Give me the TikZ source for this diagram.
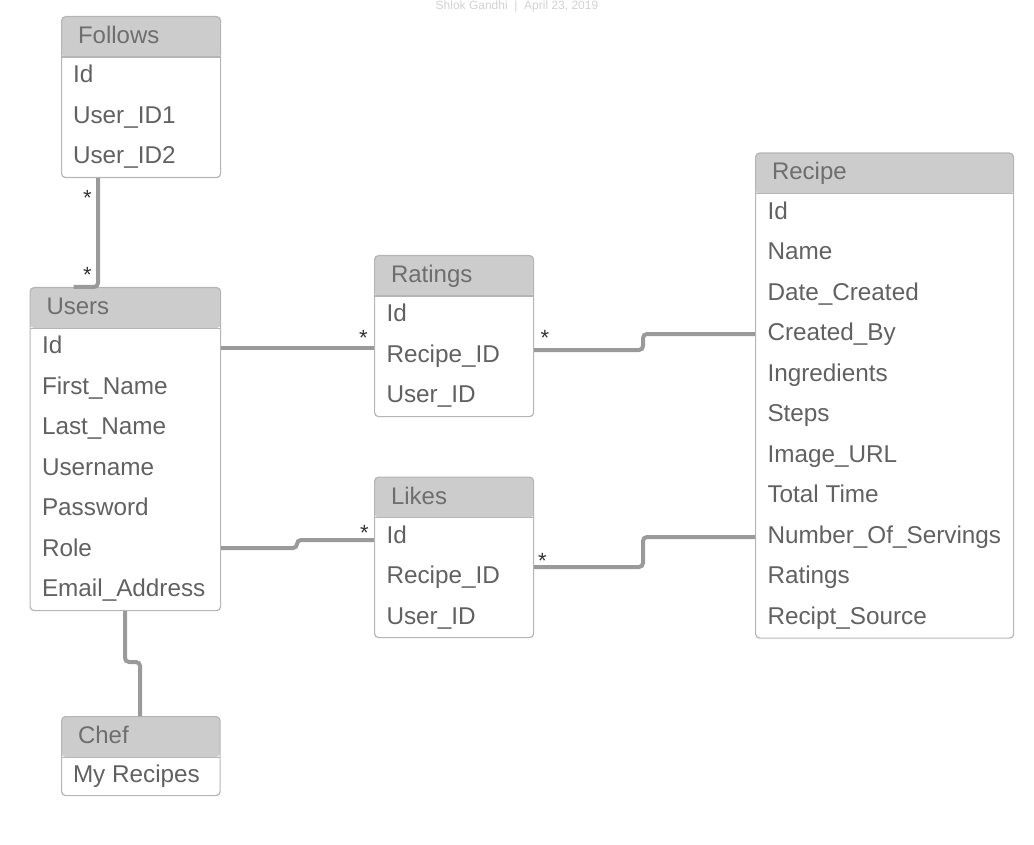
\documentclass[tikz,border=0pt]{standalone}
\usepackage{fontspec}
\setmainfont{Liberation Sans}
\usetikzlibrary{positioning}
\definecolor{headgray}{HTML}{CCCCCC}
\definecolor{boxgray}{HTML}{B5B5B5}
\definecolor{linegray}{HTML}{9A9A9A}
\definecolor{txtgray}{HTML}{616161}
\definecolor{hdrgray}{HTML}{6E6E6E}
\tikzset{
  tbl/.style={draw=boxgray, line width=1.2pt, rounded corners=4pt, anchor=north west, inner sep=0pt,
    path picture={
      \fill[headgray] (path picture bounding box.north west) rectangle ([yshift=-40.5pt]path picture bounding box.north east);
      \draw[boxgray, line width=1.2pt] ([yshift=-40.5pt]path picture bounding box.north west) -- ([yshift=-40.5pt]path picture bounding box.north east);}},
  hdr/.style={anchor=west, inner sep=0pt, outer sep=0pt, text height=17pt, text depth=0pt, text=hdrgray, font=\fontsize{24}{28}\selectfont},
  fld/.style={anchor=west, inner sep=0pt, outer sep=0pt, minimum height=40.5pt, text height=17pt, text depth=0pt, text=txtgray, font=\fontsize{24.3}{28}\selectfont},
  row/.style={fld, below=0pt of #1.south west, anchor=north west},
  conn/.style={draw=linegray, line width=4pt, rounded corners=4pt},
  mult/.style={inner sep=0pt, text=black!80, font=\fontsize{22}{22}\selectfont, yshift=-5pt}
}
\begin{document}
\begin{tikzpicture}[x=1pt, y=-1pt]
  \useasboundingbox (0,0) rectangle (1034,845);
  \node (credit) [anchor=base, text=black!18, font=\fontsize{12}{12}\selectfont] at (517,10) {Shlok Gandhi~~|~~April 23, 2019};

  % tables
  \node (follows) [tbl] [minimum width=159pt, minimum height=161pt] at (61,16) {};
  \node (fTitle) [hdr] at ([xshift=17pt,yshift=-19pt]follows.north west) {Follows};
  \node (fId) [fld] at ([xshift=12pt,yshift=-58.2pt]follows.north west) {Id};
  \node (fUser1) [row=fId] {User\_ID1};
  \node (fUser2) [row=fUser1] {User\_ID2};

  \node (users) [tbl] [minimum width=190.5pt, minimum height=323pt] at (29.5,287) {};
  \node (uTitle) [hdr] at ([xshift=17pt,yshift=-19pt]users.north west) {Users};
  \node (uId) [fld] at ([xshift=12.5pt,yshift=-58.2pt]users.north west) {Id};
  \node (uFirst) [row=uId] {First\_Name};
  \node (uLast) [row=uFirst] {Last\_Name};
  \node (uName) [row=uLast] {Username};
  \node (uPass) [row=uName] {Password};
  \node (uRole) [row=uPass] {Role};
  \node (uMail) [row=uRole] {Email\_Address};

  \node (ratings) [tbl] [minimum width=159pt, minimum height=161pt] at (374,255) {};
  \node (rTitle) [hdr] at ([xshift=17pt,yshift=-19pt]ratings.north west) {Ratings};
  \node (rId) [fld] at ([xshift=12.5pt,yshift=-58.2pt]ratings.north west) {Id};
  \node (rRecipe) [row=rId] {Recipe\_ID};
  \node (rUser) [row=rRecipe] {User\_ID};

  \node (likes) [tbl] [minimum width=159pt, minimum height=160.5pt] at (374,476.5) {};
  \node (lTitle) [hdr] at ([xshift=17pt,yshift=-19pt]likes.north west) {Likes};
  \node (lId) [fld] at ([xshift=12.5pt,yshift=-58.2pt]likes.north west) {Id};
  \node (lRecipe) [row=lId] {Recipe\_ID};
  \node (lUser) [row=lRecipe] {User\_ID};

  \node (recipe) [tbl] [minimum width=258pt, minimum height=485pt] at (755,152.5) {};
  \node (cTitle) [hdr] at ([xshift=17pt,yshift=-19pt]recipe.north west) {Recipe};
  \node (cId) [fld] at ([xshift=12.5pt,yshift=-58.2pt]recipe.north west) {Id};
  \node (cName) [row=cId] {Name};
  \node (cDate) [row=cName] {Date\_Created};
  \node (cBy) [row=cDate] {Created\_By};
  \node (cIngr) [row=cBy] {Ingredients};
  \node (cSteps) [row=cIngr] {Steps};
  \node (cImage) [row=cSteps] {Image\_URL};
  \node (cTime) [row=cImage] {Total Time};
  \node (cServ) [row=cTime] {Number\_Of\_Servings};
  \node (cRatings) [row=cServ] {Ratings};
  \node (cSource) [row=cRatings] {Recipt\_Source};

  \node (chef) [tbl] [minimum width=158.5pt, minimum height=79pt] at (61,716) {};
  \node (hTitle) [hdr] at ([xshift=17pt,yshift=-19pt]chef.north west) {Chef};
  \node (hMine) [fld] at ([xshift=12pt,yshift=-58.2pt]chef.north west) {My Recipes};

  % relations
  \draw[conn] ([xshift=37pt]follows.south west) |- ([xshift=44pt]users.north west);
  \draw[conn] (users.east |- 0,348) -- (ratings.west |- 0,348);
  \draw[conn] (ratings.east |- 0,350) -- (643,350) -- (643,334) -- (recipe.west |- 0,334);
  \draw[conn] (users.east |- 0,548) -- (297,548) -- (297,540) -- (likes.west |- 0,540);
  \draw[conn] (likes.east |- 0,567) -- (643,567) -- (643,537) -- (recipe.west |- 0,537);
  \draw[conn] (users.south -| 125,0) -- (125,662) -- (140,662) -- (chef.north -| 140,0);

  \node (m1) [mult] at (87.3,192.7) {*};
  \node (m2) [mult] at (87.3,270) {*};
  \node (m3) [mult] at (363.3,332.7) {*};
  \node (m4) [mult] at (545,333) {*};
  \node (m5) [mult] at (364.5,528) {*};
  \node (m6) [mult] at (542.5,555.5) {*};
\end{tikzpicture}
\end{document}
